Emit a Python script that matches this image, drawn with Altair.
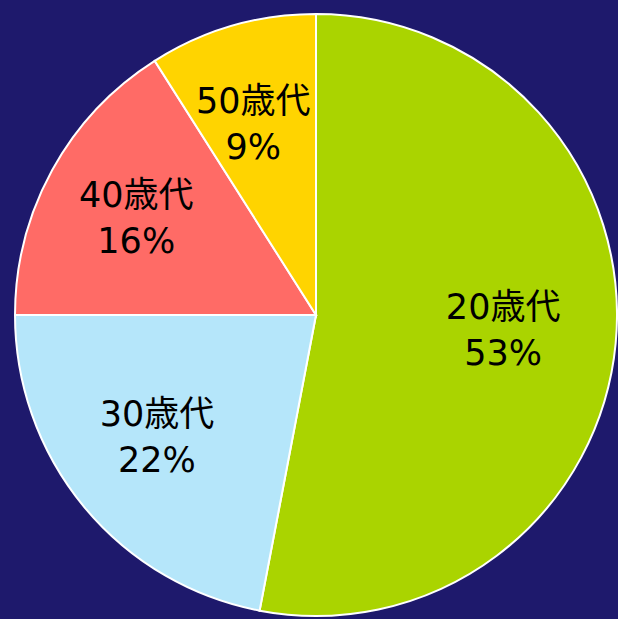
import altair as alt
import pandas as pd

categories = ["20歳代", "30歳代", "40歳代", "50歳代"]
shares = [53, 22, 16, 9]
colors = ["#aad400", "#b5e6fa", "#ff6b66", "#ffd400"]

df = pd.DataFrame({
    "cat": categories,
    "share": shares,
    "idx": list(range(len(categories))),
})
df["label"] = [f"{c}\n{v}%" for c, v in zip(categories, shares)]

base = alt.Chart(df).encode(
    theta=alt.Theta("share:Q", stack=True),
    order=alt.Order("idx:O", sort="ascending"),
    x=alt.value(316),
    y=alt.value(315),
)

arcs = base.mark_arc(outerRadius=301, stroke="white", strokeWidth=2).encode(
    color=alt.Color("cat:N", scale=alt.Scale(domain=categories, range=colors), legend=None)
)

texts = base.mark_text(
    radius=196, fontSize=35, font="DejaVu Sans, Noto Sans CJK JP", lineBreak="\n",
    lineHeight=46, dx=-8, dy=-25, color="black", baseline="middle", align="center"
).encode(text="label:N")

chart = alt.layer(arcs, texts).properties(
    width=618, height=619, background="#1e196c",
    autosize=alt.AutoSizeParams(type="none"), padding=0
).configure_view(stroke=None)

chart.save("out.html", embed_options={"renderer": "svg", "actions": False})
